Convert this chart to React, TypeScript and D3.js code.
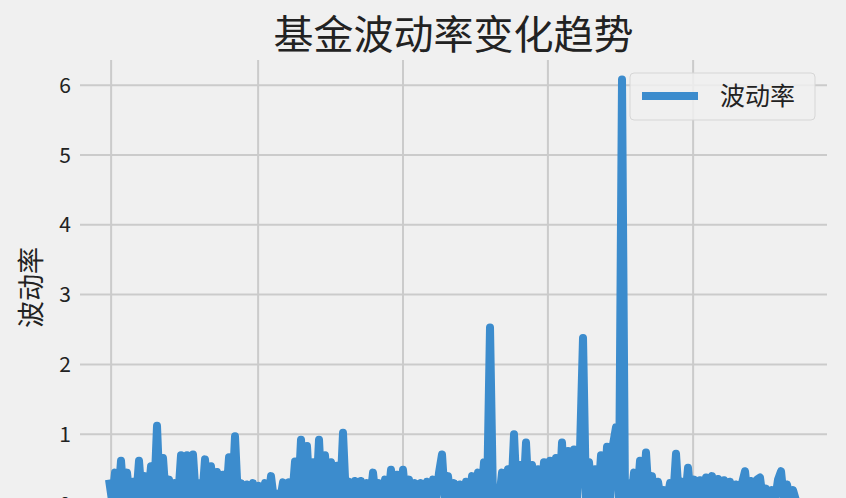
import { useEffect, useRef } from 'react';
import * as d3 from 'd3';

const title = '基金波动率变化趋势';
const yLabel = '波动率';
const seriesName = '波动率';

const volatility: number[] = [
  0.35, 0.05, 0.45, 0.05, 0.62, 0.05, 0.45, 0.05, 0.32, 0.05,
  0.62, 0.05, 0.4, 0.05, 0.54, 0.05, 1.12, 0.05, 0.66, 0.05,
  0.35, 0.05, 0.3, 0.05, 0.7, 0.05, 0.7, 0.05, 0.71, 0.05,
  0.3, 0.05, 0.64, 0.05, 0.54, 0.05, 0.46, 0.05, 0.42, 0.05,
  0.67, 0.05, 0.97, 0.05, 0.3, 0.05, 0.28, 0.05, 0.3, 0.05,
  0.26, 0.05, 0.3, 0.05, 0.4, 0.05, 0.15, 0.05, 0.31, 0.05,
  0.31, 0.05, 0.61, 0.05, 0.92, 0.05, 0.83, 0.05, 0.6, 0.05,
  0.92, 0.05, 0.7, 0.05, 0.6, 0.05, 0.55, 0.05, 1.02, 0.05,
  0.32, 0.05, 0.33, 0.05, 0.33, 0.05, 0.3, 0.05, 0.45, 0.05,
  0.3, 0.05, 0.35, 0.05, 0.49, 0.05, 0.42, 0.05, 0.49, 0.05,
  0.35, 0.05, 0.3, 0.05, 0.3, 0.05, 0.32, 0.05, 0.35, 0.05,
  0.45, 0.71, 0.05, 0.4, 0.05, 0.3, 0.05, 0.28, 0.05, 0.32,
  0.05, 0.4, 0.05, 0.45, 0.05, 0.6, 0.05, 2.53, 0.05, 0.2,
  0.05, 0.45, 0.05, 0.5, 0.05, 1.0, 0.05, 0.56, 0.05, 0.88,
  0.05, 0.56, 0.05, 0.5, 0.05, 0.6, 0.05, 0.62, 0.05, 0.66,
  0.05, 0.88, 0.05, 0.76, 0.05, 0.78, 0.05, 0.78, 2.38, 0.05,
  0.6, 0.05, 0.5, 0.05, 0.7, 0.05, 0.82, 0.05, 0.85, 1.1,
  0.05, 6.08, 0.05, 0.3, 0.05, 0.45, 0.05, 0.62, 0.05, 0.74,
  0.05, 0.4, 0.05, 0.32, 0.05, 0.2, 0.05, 0.3, 0.05, 0.72,
  0.05, 0.32, 0.05, 0.52, 0.05, 0.35, 0.05, 0.34, 0.05, 0.38,
  0.05, 0.4, 0.05, 0.36, 0.05, 0.34, 0.05, 0.32, 0.05, 0.28,
  0.05, 0.3, 0.47, 0.05, 0.33, 0.05, 0.35, 0.38, 0.05, 0.22,
  0.05, 0.2, 0.05, 0.35, 0.47, 0.05, 0.28, 0.05, 0.2, 0.05,
];

// positions of the (unlabelled, cropped) date gridlines, in observation index
const xGridIdx = [0.7, 49.7, 98, 146.3, 194.7];
const yTicks = [0, 1, 2, 3, 4, 5, 6];

const W = 846;
const H = 498;
const FONT = '"Noto Sans CJK SC", "Noto Sans", sans-serif';
const BLUE = '#3c8ccd';

export default function App() {
  const svgRef = useRef<SVGSVGElement>(null);

  useEffect(() => {
    if (!svgRef.current) return;
    const svg = d3.select(svgRef.current);
    svg.selectAll('*').remove();

    const left = 80, right = 827, top = 60, bottom = 525;
    const n = volatility.length;

    const x = d3.scaleLinear()
      .domain([-9.67, n - 1 + 10.33])
      .range([left, right]);
    const y = d3.scaleLinear()
      .domain([-0.3, 6.36])
      .range([bottom, top]);

    svg.append('rect')
      .attr('width', W).attr('height', H)
      .attr('fill', '#f0f0f0');

    // grid
    svg.append('g')
      .selectAll('line')
      .data(yTicks)
      .join('line')
      .attr('x1', left).attr('x2', right)
      .attr('y1', d => y(d)).attr('y2', d => y(d))
      .attr('stroke', '#cbcbcb')
      .attr('stroke-width', 2);

    svg.append('g')
      .selectAll('line')
      .data(xGridIdx)
      .join('line')
      .attr('x1', d => x(d)).attr('x2', d => x(d))
      .attr('y1', top).attr('y2', bottom)
      .attr('stroke', '#cbcbcb')
      .attr('stroke-width', 2);

    // y tick labels
    svg.append('g')
      .selectAll('text')
      .data(yTicks)
      .join('text')
      .attr('x', 71)
      .attr('y', d => y(d))
      .attr('dy', '0.36em')
      .attr('text-anchor', 'end')
      .style('font-family', FONT)
      .style('font-size', '21px')
      .attr('fill', '#222')
      .text(d => d);

    // line
    const line = d3.line<number>()
      .x((_, i) => x(i))
      .y(d => y(d));

    svg.append('path')
      .datum(volatility)
      .attr('d', line)
      .attr('fill', 'none')
      .attr('stroke', BLUE)
      .attr('stroke-width', 8)
      .attr('stroke-linejoin', 'round');

    // title
    svg.append('text')
      .attr('x', (left + right) / 2)
      .attr('y', 49)
      .attr('text-anchor', 'middle')
      .style('font-family', FONT)
      .style('font-size', '40px')
      .attr('fill', '#222')
      .text(title);

    // y label
    svg.append('text')
      .attr('transform', `translate(41, ${(top + bottom) / 2 - 5}) rotate(-90)`)
      .attr('text-anchor', 'middle')
      .style('font-family', FONT)
      .style('font-size', '27px')
      .attr('fill', '#222')
      .text(yLabel);

    // legend
    const lg = svg.append('g').attr('transform', 'translate(630, 73)');
    lg.append('rect')
      .attr('width', 185).attr('height', 47)
      .attr('rx', 4)
      .attr('fill', '#f0f0f0')
      .attr('fill-opacity', 0.85)
      .attr('stroke', '#d6d6d6')
      .attr('stroke-width', 1);
    lg.append('line')
      .attr('x1', 12).attr('x2', 68)
      .attr('y1', 23).attr('y2', 23)
      .attr('stroke', BLUE)
      .attr('stroke-width', 8);
    lg.append('text')
      .attr('x', 90).attr('y', 23)
      .attr('dy', '0.36em')
      .style('font-family', FONT)
      .style('font-size', '25px')
      .attr('fill', '#222')
      .text(seriesName);
  }, []);

  return (
    <div style={{ position: 'fixed', left: 0, top: 0 }}>
      <svg ref={svgRef} width={W} height={H} style={{ display: 'block' }} />
    </div>
  );
}
